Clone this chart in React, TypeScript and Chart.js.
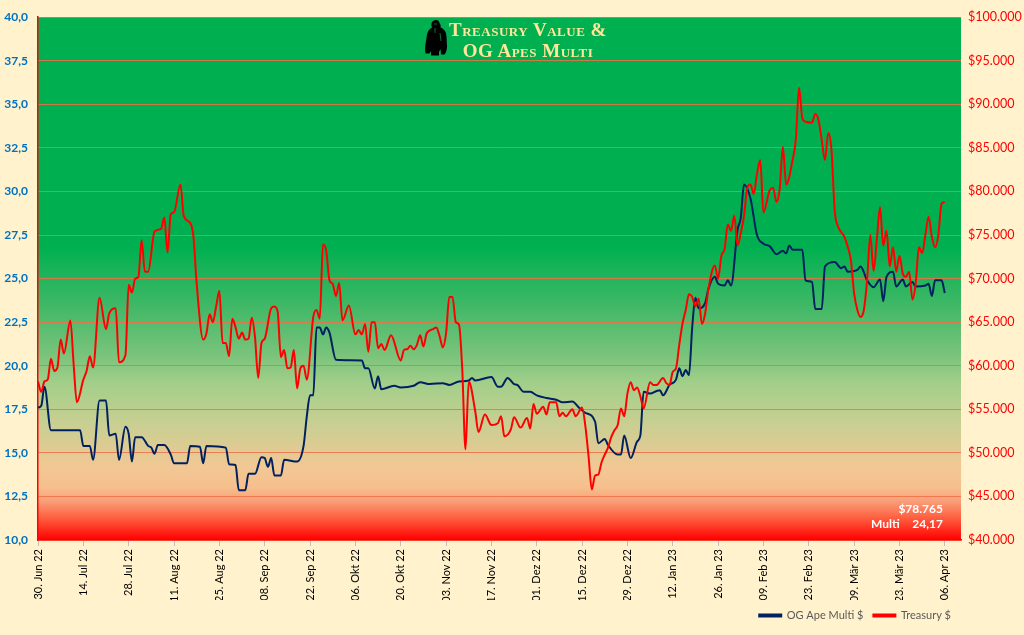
import React, { useEffect, useRef } from 'react';
import Chart from 'chart.js/auto';

// x positions are day offsets from 30 Jun 22
const tickDays = [0, 14, 28, 42, 56, 70, 84, 98, 112, 126, 140, 154, 168, 182, 196, 210, 224, 238, 252, 266, 280];
const tickLabels = [
  '30. Jun 22', '14. Jul 22', '28. Jul 22', '11. Aug 22', '25. Aug 22', '08. Sep 22', '22. Sep 22',
  '06. Okt 22', '20. Okt 22', '03. Nov 22', '17. Nov 22', '01. Dez 22', '15. Dez 22', '29. Dez 22',
  '12. Jan 23', '26. Jan 23', '09. Feb 23', '23. Feb 23', '09. Mär 23', '23. Mär 23', '06. Apr 23',
];

const multiDays = [
  0, 1, 2, 4, 13, 14, 16, 17, 19, 21, 22, 24, 25, 27, 28, 29, 30, 32, 34, 35, 36, 37, 39, 41, 42, 46, 47, 50, 51, 52,
  58, 59, 61, 62, 64, 65, 67, 69, 70, 71, 72, 73, 75, 76, 80, 82, 83, 84, 85, 86, 87, 88, 89, 90, 92, 100, 101, 102, 104, 105,
  106, 110, 112, 116, 118, 121, 125, 127, 130, 133, 134, 135, 140, 142, 143, 145, 147, 148, 150, 152, 154, 157, 160, 162, 165, 167, 169, 172, 173, 175,
  176, 179, 180, 181, 183, 185, 186, 187, 189, 191, 192, 193, 195, 197, 198, 199, 200, 201, 202, 203, 204, 206, 207, 209, 210, 212, 213, 214, 216, 217,
  218, 220, 222, 224, 226, 228, 230, 231, 232, 233, 236, 237, 239, 240, 242, 243, 246, 248, 249, 250, 253, 254, 256, 258, 260, 261, 262, 264, 265, 267,
  268, 270, 271, 274, 275, 276, 277, 279, 280,
];
const multiValues = [
  17.6, 17.7, 18.8, 16.3, 16.3, 15.4, 15.4, 14.6, 18.0, 18.0, 16.0, 16.1, 14.6, 16.5, 16.1, 14.5, 15.9, 15.9, 15.4, 15.3, 14.95, 15.45, 15.45, 14.9, 14.4, 14.4, 15.4, 15.35, 14.4, 15.4,
  15.3, 14.35, 14.3, 12.85, 12.85, 13.8, 13.8, 14.75, 14.7, 14.2, 14.7, 13.7, 13.7, 14.6, 14.5, 15.4, 17.1, 18.3, 18.3, 22.2, 22.2, 21.8, 22.2, 21.9, 20.35, 20.3, 19.85, 19.85, 18.7, 19.4,
  18.65, 18.85, 18.75, 18.85, 19.05, 18.95, 19.0, 18.9, 19.1, 19.15, 19.3, 19.15, 19.35, 18.8, 18.8, 19.3, 18.95, 18.9, 18.5, 18.5, 18.3, 18.15, 18.05, 17.9, 17.95, 17.6, 17.3, 16.8, 15.55, 15.8,
  15.45, 14.9, 14.9, 16.0, 14.7, 15.65, 16.0, 18.5, 18.4, 18.55, 18.6, 18.3, 18.9, 19.2, 19.85, 19.4, 19.75, 19.45, 22.2, 23.9, 23.3, 23.6, 24.4, 25.1, 24.7, 24.6, 24.9, 24.6, 27.8, 28.5,
  30.4, 29.6, 27.5, 27.0, 26.85, 26.4, 26.6, 26.45, 26.9, 26.65, 26.65, 24.9, 24.8, 23.25, 23.25, 25.7, 25.95, 25.6, 25.7, 25.4, 25.5, 25.7, 24.9, 24.5, 24.95, 23.7, 25.1, 25.4, 24.55, 24.95,
  24.55, 24.8, 24.55, 24.6, 24.7, 24.0, 24.9, 24.9, 24.17,
];

const treasuryDays = [
  0, 1, 2, 3, 4, 5, 6, 7, 8, 10, 11, 12, 14, 15, 16, 17, 19, 21, 22, 24, 25, 27, 28, 29, 30, 31, 32, 33, 34, 36,
  38, 39, 40, 41, 42, 44, 45, 47, 48, 49, 51, 52, 53, 54, 55, 56, 57, 58, 59, 60, 61, 62, 63, 64, 65, 66, 67, 68, 69, 70,
  72, 73, 74, 75, 76, 77, 78, 79, 80, 81, 82, 83, 85, 86, 87, 88, 89, 90, 91, 92, 93, 94, 96, 98, 99, 100, 101, 102, 103, 104,
  105, 106, 107, 109, 112, 113, 114, 115, 116, 117, 118, 119, 120, 122, 123, 124, 125, 126, 127, 128, 129, 130, 131, 132, 133, 135, 136, 138, 140, 142,
  143, 144, 146, 147, 149, 151, 152, 153, 154, 156, 157, 158, 160, 161, 162, 163, 165, 166, 168, 169, 170, 171, 172, 173, 174, 175, 176, 177, 178, 179,
  180, 181, 182, 183, 184, 185, 186, 187, 189, 190, 191, 193, 194, 195, 196, 197, 198, 199, 200, 201, 202, 203, 204, 205, 206, 207, 209, 210, 211, 212,
  213, 214, 215, 216, 217, 218, 219, 220, 221, 222, 223, 224, 226, 227, 228, 229, 230, 231, 233, 234, 235, 236, 237, 239, 240, 241, 242, 243, 244, 245,
  246, 247, 249, 250, 251, 252, 253, 254, 255, 256, 257, 258, 259, 260, 261, 262, 263, 264, 265, 266, 267, 268, 269, 270, 271, 272, 273, 274, 275, 276,
  277, 278, 279, 280,
];
const treasuryValues = [
  58200, 57000, 58200, 58400, 60800, 59400, 59800, 63000, 61400, 65200, 60200, 55800, 58400, 59400, 61100, 59800, 67800, 64200, 66000, 66600, 60400, 61200, 69300, 68400, 70000, 70200, 74400, 70800, 70800, 75400,
  75700, 77000, 73000, 77400, 77600, 80800, 77200, 76400, 74800, 69400, 63000, 63700, 65900, 65000, 66800, 68600, 62600, 62600, 61100, 65400, 64400, 63100, 63800, 63000, 63100, 65500, 63300, 58600, 62600, 63100,
  66600, 66800, 66200, 61000, 61800, 59700, 59800, 61800, 57400, 59700, 60000, 58400, 65600, 66400, 65400, 73900, 73200, 69800, 69400, 68000, 69500, 65200, 66900, 63600, 64100, 63600, 64800, 61600, 65000, 65000,
  62000, 62500, 61800, 63500, 60600, 61800, 61900, 62300, 61900, 62400, 63500, 62200, 63700, 64200, 64400, 63400, 62100, 63700, 67900, 67900, 65000, 64700, 59600, 50400, 58200, 54800, 52400, 54400, 53200, 53400,
  54200, 51900, 52700, 54100, 52900, 54000, 52800, 55600, 54500, 55300, 54400, 55800, 55800, 54200, 54600, 54200, 55000, 54200, 55200, 53100, 49600, 45800, 47400, 47500, 48900, 49800, 50600, 51800, 52600, 53200,
  55100, 54200, 56800, 58100, 57200, 57500, 56500, 55100, 58100, 57800, 57800, 58600, 58000, 57800, 59300, 59700, 62400, 64800, 66400, 68200, 67900, 66800, 67700, 64800, 66000, 68800, 71500, 70000, 72600, 73400,
  76200, 75500, 77200, 73800, 75200, 77200, 80400, 80800, 79700, 82000, 83600, 77600, 80200, 80400, 78800, 80200, 85100, 80800, 83600, 86000, 91900, 88400, 88000, 87900, 88900, 88200, 85900, 83600, 86700, 84800,
  77800, 76000, 74800, 73700, 72100, 68300, 66400, 65600, 66400, 69800, 75000, 70900, 74400, 78200, 73800, 75500, 71400, 73600, 70800, 72600, 70600, 70200, 70800, 67600, 69400, 73600, 72900, 75000, 77100, 74800,
  73600, 75000, 78600, 78765,
];

const gridColor = 'rgba(240, 110, 70, 0.85)';
const font = 'Lato';

const dotThousands = (v: number) => String(Math.round(v)).replace(/\B(?=(\d{3})+(?!\d))/g, '.');

// plot area fill: green at the top fading to red at the bottom
const backgroundPlugin = {
  id: 'plotBackground',
  beforeDraw(chart: any) {
    const { ctx, chartArea: a } = chart;
    if (!a) return;
    const g = ctx.createLinearGradient(0, a.top, 0, a.bottom);
    g.addColorStop(0, '#00b050');
    g.addColorStop(0.44, '#00b050');
    g.addColorStop(0.55, '#3fb866');
    g.addColorStop(0.65, '#7cc47c');
    g.addColorStop(0.70, '#a2cf8a');
    g.addColorStop(0.78, '#cacf92');
    g.addColorStop(0.82, '#dccb92');
    g.addColorStop(0.86, '#f2c894');
    g.addColorStop(0.90, '#f6bf8c');
    g.addColorStop(0.925, '#f9a07a');
    g.addColorStop(0.96, '#ff5a3c');
    g.addColorStop(1, '#ff0000');
    ctx.save();
    ctx.fillStyle = g;
    ctx.fillRect(a.left, a.top, a.right - a.left, a.bottom - a.top);
    ctx.restore();
  },
};

// last values shown in the lower right corner
const lastValuePlugin = {
  id: 'lastValues',
  afterDraw(chart: any) {
    const { ctx, chartArea: a } = chart;
    const lastTreasury = treasuryValues[treasuryValues.length - 1];
    const lastMulti = multiValues[multiValues.length - 1];
    ctx.save();
    ctx.fillStyle = '#ffffff';
    ctx.font = `bold 12px ${font}`;
    ctx.textBaseline = 'middle';
    ctx.textAlign = 'right';
    ctx.fillText('$' + dotThousands(lastTreasury), a.right - 18, a.bottom - 31);
    ctx.fillText(lastMulti.toFixed(2).replace('.', ','), a.right - 18, a.bottom - 16);
    ctx.textAlign = 'left';
    ctx.fillText('Multi', a.right - 90, a.bottom - 16);
    ctx.restore();
  },
};

const Gorilla = () => (
  <svg width="24" height="37" viewBox="0 0 24 37" style={{ position: 'absolute', left: 424, top: 19 }}>
    <path
      d="M9 2 C12 0 15 1 15.5 4 C16.5 5 17 7 16.5 8.5 C20 9.5 22.5 13 22.5 18 L23 27 C23 31 22 34 20.5 35.5 L17 35.5 L16.5 30 L15 33 L15 36.5 L7 36.5 L7 32 L5.5 34.5 L1.5 34.5 C0.5 30 1.5 24 2.5 19 C3 13 5 10 8 8.5 C7 6.5 7 3.5 9 2 Z"
      fill="#000000"
    />
    <path d="M10 5 L13 5 M11 9 L11 14 M16 14 L17 22" stroke="#0a8f3c" strokeWidth="0.8" fill="none" />
  </svg>
);

const App: React.FC = () => {
  const canvasRef = useRef<HTMLCanvasElement>(null);

  useEffect(() => {
    if (!canvasRef.current) return;
    const chart = new Chart(canvasRef.current, {
      type: 'line',
      data: {
        datasets: [
          {
            label: 'OG Ape Multi $',
            data: multiDays.map((d, i) => ({ x: d, y: multiValues[i] })),
            borderColor: '#002060',
            backgroundColor: '#002060',
            borderWidth: 2,
            pointRadius: 0,
            cubicInterpolationMode: 'monotone',
            yAxisID: 'y',
            order: 2,
          },
          {
            label: 'Treasury $',
            data: treasuryDays.map((d, i) => ({ x: d, y: treasuryValues[i] })),
            borderColor: '#ff0000',
            backgroundColor: '#ff0000',
            borderWidth: 2,
            pointRadius: 0,
            cubicInterpolationMode: 'monotone',
            yAxisID: 'y1',
            order: 1,
          },
        ],
      },
      options: {
        animation: false,
        responsive: true,
        maintainAspectRatio: false,
        layout: { padding: { top: 15, bottom: 4 } },
        plugins: {
          tooltip: { enabled: false },
          legend: {
            position: 'bottom',
            align: 'end',
            fullSize: false,
            labels: {
              boxWidth: 22,
              boxHeight: 2,
              padding: 10,
              color: '#595959',
              font: { family: font, size: 11 },
              sort: (a: any, b: any) => a.datasetIndex - b.datasetIndex,
            },
          },
        },
        scales: {
          x: {
            type: 'linear',
            min: 0,
            max: 285,
            afterBuildTicks: (scale: any) => {
              scale.ticks = tickDays.map((v) => ({ value: v }));
            },
            afterFit: (scale: any) => {
              scale.height = 60;
            },
            ticks: {
              autoSkip: false,
              minRotation: 90,
              maxRotation: 90,
              padding: 3,
              color: '#000000',
              font: { family: font, size: 11 },
              callback: (value: any) => tickLabels[tickDays.indexOf(Number(value))] ?? '',
            },
            grid: { drawOnChartArea: false, drawTicks: true, tickLength: 6, color: '#bfbfbf' },
            border: { color: '#ff0000', width: 1.5 },
          },
          y: {
            position: 'left',
            min: 10,
            max: 40,
            afterFit: (scale: any) => {
              scale.width = 38;
            },
            ticks: {
              stepSize: 2.5,
              padding: 10,
              color: '#0070c0',
              font: { family: font, size: 12, weight: 'bold' },
              callback: (value: any) => Number(value).toFixed(1).replace('.', ','),
            },
            grid: { color: gridColor, drawTicks: false },
            border: { color: '#ff0000', width: 1.5 },
          },
          y1: {
            position: 'right',
            min: 40000,
            max: 100000,
            afterFit: (scale: any) => {
              scale.width = 63;
            },
            ticks: {
              stepSize: 5000,
              padding: 7,
              color: '#ff0000',
              font: { family: font, size: 12.5 },
              callback: (value: any) => '$' + dotThousands(Number(value)),
            },
            grid: { display: false, drawTicks: false },
            border: { display: false },
          },
        },
      },
      plugins: [backgroundPlugin, lastValuePlugin],
    });
    return () => chart.destroy();
  }, []);

  return (
    <div style={{ position: 'fixed', left: 0, top: 0, width: 1024, height: 635, background: '#fff2cc' }}>
      <canvas ref={canvasRef} />
      <Gorilla />
      <div
        style={{
          position: 'absolute',
          left: 440,
          top: 19,
          width: 176,
          textAlign: 'center',
          color: '#ffe699',
          fontFamily: '"Liberation Serif", serif',
          fontWeight: 'bold',
          fontVariant: 'small-caps',
          fontSize: 19,
          lineHeight: '21px',
          letterSpacing: 0.5,
        }}
      >
        Treasury Value &amp;
        <br />
        OG Apes Multi
      </div>
    </div>
  );
};

export default App;
